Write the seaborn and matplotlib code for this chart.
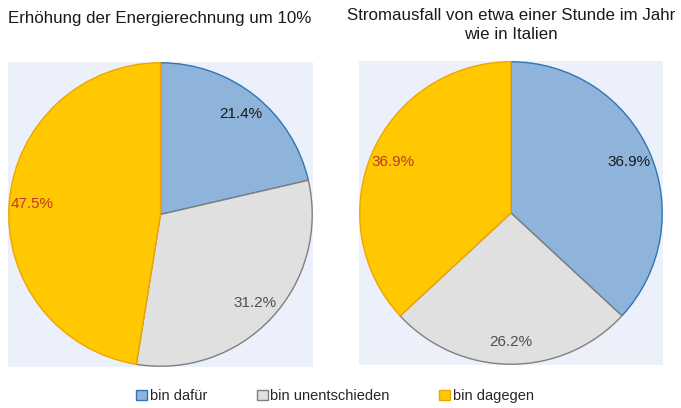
import matplotlib
matplotlib.use("Agg")
import matplotlib.pyplot as plt
import seaborn as sns
from matplotlib.patches import Patch

sns.set_theme(style="white")
plt.rcParams['font.family'] = ['Liberation Sans', 'DejaVu Sans']

categories = ["bin dafür", "bin unentschieden", "bin dagegen"]
left_values = [21.4, 31.2, 47.5]
right_values = [36.9, 26.2, 36.9]
titles = ["Erhöhung der Energierechnung um 10%",
          "Stromausfall von etwa einer Stunde im Jahr\nwie in Italien"]

fill_colors = sns.color_palette(["#8FB4DB", "#E0E0E0", "#FFC800"])
edge_colors = ["#2F75B5", "#7F7F7F", "#F0A500"]
label_colors = ["#1A1A1A", "#505050", "#C0392B"]
bg = "#ECF0FA"

W, H = 681, 408
fig = plt.figure(figsize=(W / 100, H / 100), dpi=100)

def px_axes(x0, y0, x1, y1):
    return fig.add_axes([x0 / W, 1 - y1 / H, (x1 - x0) / W, (y1 - y0) / H])

boxes = [(8, 62, 313, 367), (359, 61, 663, 365)]
for i, (vals, box) in enumerate(zip([left_values, right_values], boxes)):
    ax = px_axes(*box)
    wedges, texts, autotexts = ax.pie(
        vals, colors=fill_colors, startangle=90, counterclock=False,
        autopct="%.1f%%", pctdistance=0.85, radius=1.0,
        wedgeprops=dict(linewidth=1.0),
        textprops=dict(fontsize=11))
    for w, ec in zip(wedges, edge_colors):
        w.set_edgecolor(ec)
    for t, c in zip(autotexts, label_colors):
        t.set_color(c)
    ax.set_frame_on(True)
    ax.set_facecolor(bg)
    ax.patch.set_visible(True)
    ax.set_xlim(-1.005, 1.005)
    ax.set_ylim(-1.005, 1.005)
    ax.set_aspect("auto")
    ax.set_xticks([])
    ax.set_yticks([])
    for s in ax.spines.values():
        s.set_visible(False)

fig.text(8 / W, 1 - 18 / H, titles[0], fontsize=12.2, ha="left", va="center", color="#1A1A1A")
fig.text(511 / W, 1 - 25 / H, titles[1], fontsize=12.2, ha="center", va="center",
         color="#1A1A1A", linespacing=1.35)

handles = [Patch(facecolor=f, edgecolor=e, linewidth=1.0) for f, e in zip(fill_colors, edge_colors)]
fig.legend(handles, categories, loc="center", bbox_to_anchor=(335 / W, 1 - 396 / H),
           ncol=3, frameon=False, fontsize=10.5, handlelength=0.75, handleheight=0.75,
           handletextpad=0.2, columnspacing=3.35)

fig.savefig("out.png", dpi=100)
